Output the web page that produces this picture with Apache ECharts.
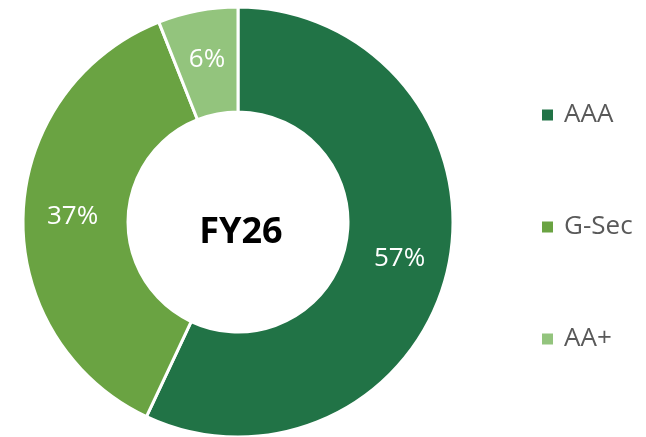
<!DOCTYPE html>
<html>
<head>
<meta charset="utf-8">
<script src="https://cdn.jsdelivr.net/npm/echarts@6/dist/echarts.min.js"></script>
<style>
  html, body { margin: 0; padding: 0; background: #fff; }
  #chart { width: 646px; height: 437px; }
</style>
</head>
<body>
<div id="chart"></div>
<script>
// Portfolio mix, FY26
const categories = ['AAA', 'G-Sec', 'AA+']
const shares = [57, 37, 6]
const colors = ['#217346', '#6AA342', '#93C47D']
const centerTitle = 'FY26'

const chart = echarts.init(document.getElementById('chart'), null, { renderer: 'canvas' })

chart.setOption({
  backgroundColor: '#FFFFFF',
  animation: false,
  color: colors,
  title: {
    text: centerTitle,
    left: 236,
    top: 228,
    textAlign: 'center',
    textVerticalAlign: 'middle',
    textStyle: {
      fontFamily: 'Open Sans',
      fontWeight: 'bold',
      fontSize: 36,
      color: '#000000',
    },
  },
  legend: {
    orient: 'vertical',
    left: 540,
    top: 99,
    padding: 0,
    itemWidth: 13,
    itemHeight: 13,
    itemGap: 80,
    icon: 'rect',
    textStyle: {
      fontFamily: 'Open Sans',
      fontSize: 26,
      lineHeight: 32,
      color: '#595959',
      padding: [0, 0, 0, 5],
    },
    data: categories,
  },
  series: [
    {
      type: 'pie',
      center: [238, 222],
      radius: [110, 215],
      startAngle: 90,
      clockwise: true,
      avoidLabelOverlap: false,
      itemStyle: {
        borderColor: '#FFFFFF',
        borderWidth: 3,
      },
      label: {
        show: true,
        position: 'inside',
        formatter: '{c}%',
        fontFamily: 'Open Sans',
        fontSize: 26,
        color: '#FFFFFF',
      },
      labelLine: { show: false },
      emphasis: { disabled: true },
      data: categories.map((name, i) => ({ name, value: shares[i] })),
    },
  ],
})
</script>
</body>
</html>
